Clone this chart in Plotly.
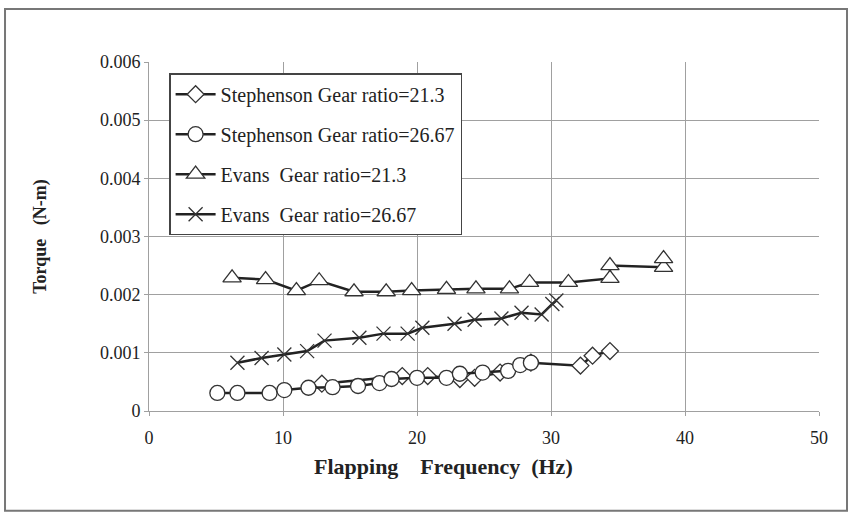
import plotly.graph_objects as go

# Stephenson, gear ratio 21.3 (diamonds)
st213_x = [12.9, 18.9, 20.8, 23.2, 24.3, 26.2, 28.5, 32.2, 33.1, 34.4]
st213_y = [0.00047, 0.00060, 0.00060, 0.00055, 0.00057, 0.00066, 0.00083, 0.00078, 0.00095, 0.00103]

# Stephenson, gear ratio 26.67 (circles)
st2667_x = [5.1, 6.6, 9.0, 10.1, 11.9, 13.7, 15.6, 17.2, 18.1, 20.0, 22.2, 23.2, 24.9, 26.8, 27.7, 28.5]
st2667_y = [0.00031, 0.00031, 0.00031, 0.00036, 0.00040, 0.00041, 0.00043, 0.00048, 0.00055, 0.00057,
            0.00057, 0.00064, 0.00066, 0.00069, 0.00079, 0.00083]

# Evans, gear ratio 21.3 (triangles)
ev213_x = [6.2, 8.7, 11.0, 12.7, 15.3, 17.7, 19.6, 22.2, 24.4, 26.9, 28.4, 31.3, 34.4, 34.4, 38.4, 38.4]
ev213_y = [0.00229, 0.00226, 0.00207, 0.00224, 0.00205, 0.00205, 0.00207, 0.00209, 0.00210, 0.00210,
           0.00221, 0.00221, 0.00228, 0.00250, 0.00247, 0.00262]

# Evans, gear ratio 26.67 (crosses)
ev2667_x = [6.6, 8.4, 10.1, 11.8, 13.1, 15.7, 17.5, 19.3, 20.4, 22.8, 24.3, 26.3, 27.8, 29.3, 30.1, 30.4]
ev2667_y = [0.00083, 0.00091, 0.00097, 0.00103, 0.00121, 0.00126, 0.00133, 0.00133, 0.00143, 0.00150,
            0.00157, 0.00159, 0.00169, 0.00166, 0.00184, 0.00190]

names = ["Stephenson Gear ratio=21.3", "Stephenson Gear ratio=26.67",
         "Evans\u00a0 Gear ratio=21.3", "Evans\u00a0 Gear ratio=26.67"]

x_ticks = [0, 10, 20, 30, 40, 50]
y_ticks = [0, 0.001, 0.002, 0.003, 0.004, 0.005, 0.006]
y_ticktext = ["0", "0.001", "0.002", "0.003", "0.004", "0.005", "0.006"]

x_title = "Flapping\u00a0\u00a0\u00a0 Frequency\u00a0 (Hz)"
y_title = "Torque\u00a0\u00a0 (N-m)"

LINE = "#222222"
MK = "#333333"
FONT = "Liberation Serif"

fig = go.Figure()

series = [
    (st213_x, st213_y, names[0], "diamond-open", 13),
    (st2667_x, st2667_y, names[1], "circle-open", 15),
    (ev213_x, ev213_y, names[2], "triangle-up-open", 16),
    (ev2667_x, ev2667_y, names[3], "x-thin-open", 14),
]
for i, (xs, ys, nm, sym, sz) in enumerate(series):
    fig.add_trace(go.Scatter(
        x=xs, y=ys, name=nm, mode="lines+markers",
        legendgroup=f"g{i}",
        line=dict(color=LINE, width=2.5),
        marker=dict(symbol=sym.replace("-open", ""), size=sz,
                    color="white", line=dict(color=MK, width=1.3)),
    ))

# outer frame of chart
fig.add_shape(type="rect", xref="paper", yref="paper",
              x0=-0.2149, x1=1.0418, y0=-0.286, y1=1.1519,
              line=dict(color="#777777", width=2), layer="below")

# x-axis title (centred on the chart frame, as in the reference)
fig.add_annotation(xref="paper", yref="paper", x=0.439, y=-0.158,
                   xanchor="center", yanchor="middle", showarrow=False,
                   text="<b>" + x_title + "</b>",
                   font=dict(family=FONT, size=22, color="#222222"))

fig.update_layout(
    width=853, height=513,
    margin=dict(l=149, r=34, t=62, b=102),
    paper_bgcolor="white", plot_bgcolor="white",
    font=dict(family=FONT, size=17, color="#222222"),
    showlegend=True,
    legend=dict(x=0.03, y=0.968, xanchor="left", yanchor="top",
                bordercolor="#444444", borderwidth=1.5, bgcolor="white",
                font=dict(family=FONT, size=20, color="#222222"),
                tracegroupgap=11, itemwidth=40),
    xaxis=dict(range=[0, 50], tickvals=x_ticks, ticktext=[str(v) for v in x_ticks],
               showgrid=True, gridcolor="#a0a0a0", gridwidth=1,
               showline=True, linecolor="#a0a0a0", linewidth=1,
               ticks="outside", ticklen=4, tickcolor="#a0a0a0",
               ticklabelstandoff=6,
               zeroline=False,
               tickfont=dict(family=FONT, size=18, color="#222222")),
    yaxis=dict(range=[0, 0.006], tickvals=y_ticks, ticktext=y_ticktext,
               showgrid=True, gridcolor="#a0a0a0", gridwidth=1,
               showline=True, linecolor="#a0a0a0", linewidth=1,
               ticks="outside", ticklen=4, tickcolor="#a0a0a0",
               zeroline=False,
               title=dict(text="<b>" + y_title + "</b>",
                          font=dict(family=FONT, size=18, color="#222222"), standoff=48),
               tickfont=dict(family=FONT, size=18, color="#222222")),
)

fig.write_html("out.html")
